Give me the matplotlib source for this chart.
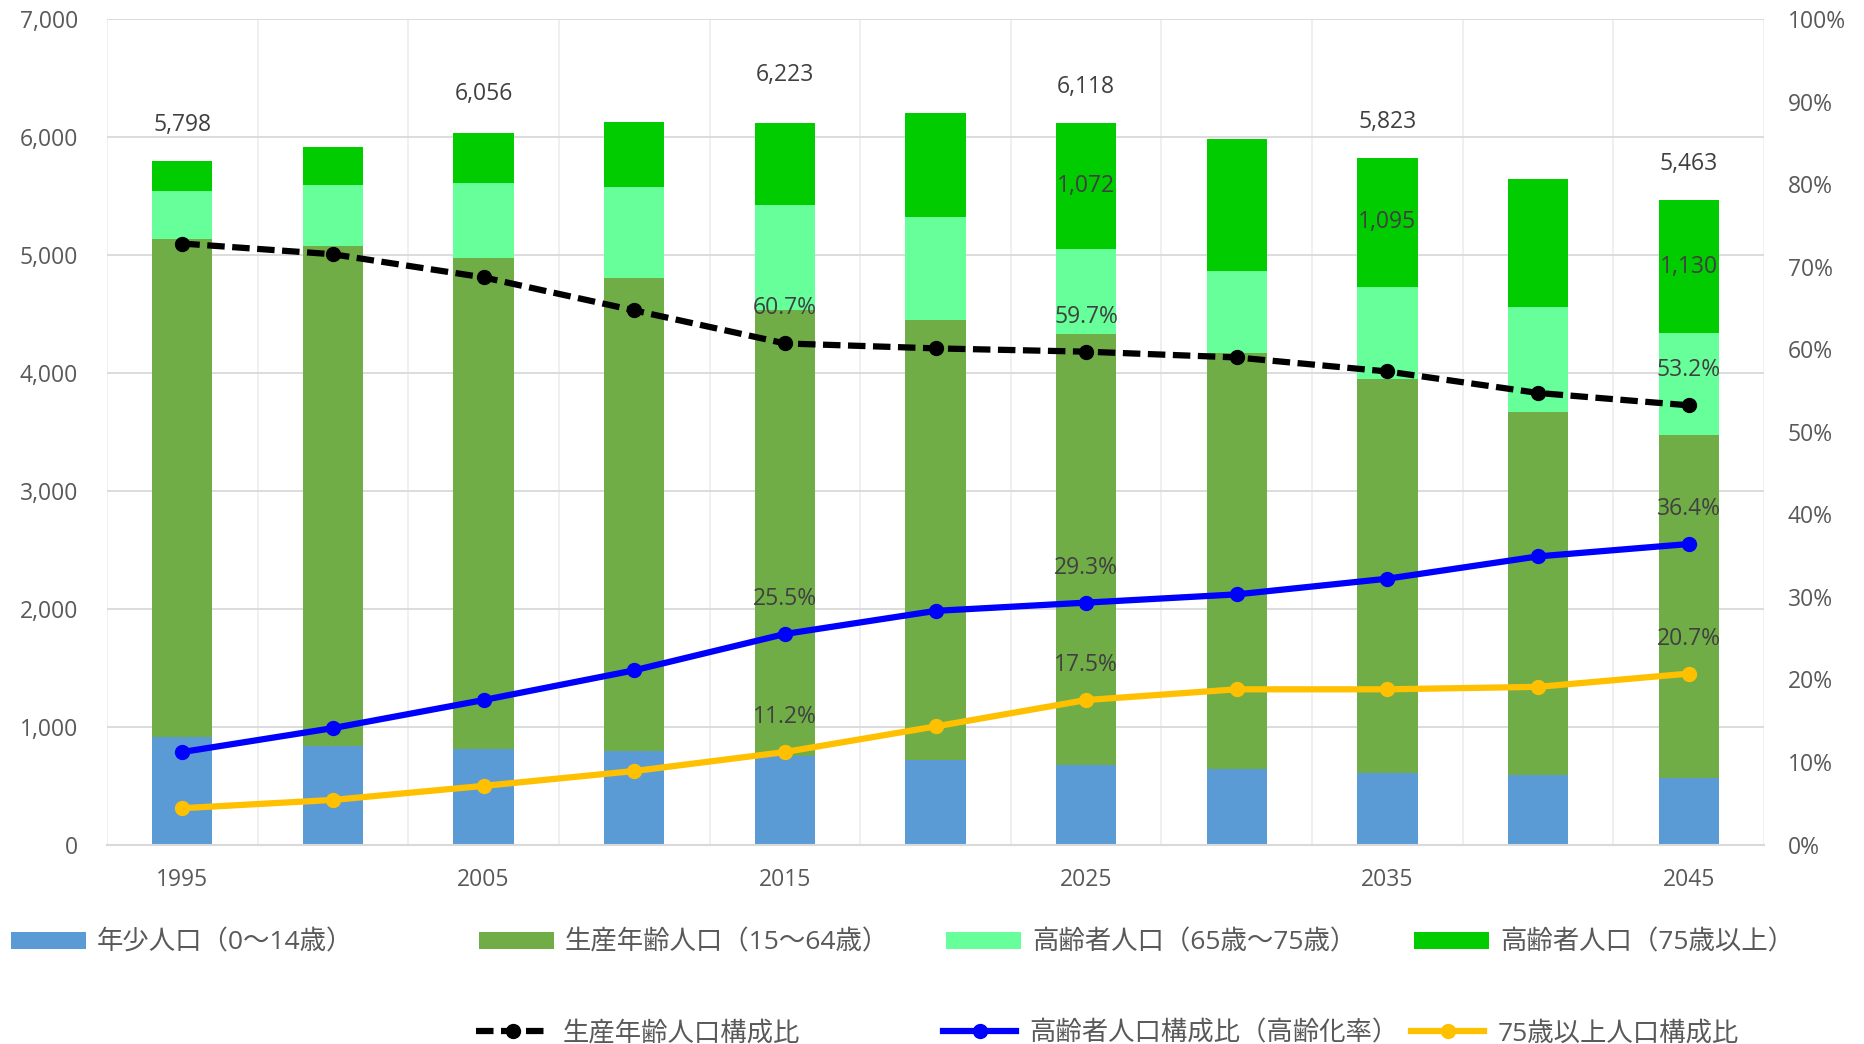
import matplotlib
matplotlib.use("Agg")
from matplotlib import pyplot as plt
from matplotlib.patches import Patch
from matplotlib.lines import Line2D
import numpy as np

plt.rcParams['font.family'] = ['Open Sans', 'Noto Sans CJK JP', 'DejaVu Sans']

years = [1995, 2000, 2005, 2010, 2015, 2020, 2025, 2030, 2035, 2040, 2045]
# 人口（千人）
young = [909, 838, 812, 795, 753, 720, 672, 638, 604, 587, 567]
working = [4225, 4240, 4159, 4009, 3780, 3728, 3654, 3527, 3343, 3083, 2908]
old65 = [408, 517, 636, 769, 891, 873, 724, 698, 780, 890, 860]
old75 = [254, 320, 426, 556, 695, 885, 1072, 1122, 1095, 1086, 1130]
# 総人口ラベル（1995, 2005, ... 2045）
total_years = [1995, 2005, 2015, 2025, 2035, 2045]
total_vals = [5798, 6056, 6223, 6118, 5823, 5463]
# 構成比（%）
pct_working = [72.8, 71.5, 68.7, 64.7, 60.7, 60.1, 59.7, 59.0, 57.3, 54.7, 53.2]
pct_aging = [11.2, 14.1, 17.5, 21.1, 25.5, 28.3, 29.3, 30.3, 32.2, 34.9, 36.4]
pct_75 = [4.4, 5.4, 7.1, 8.9, 11.2, 14.3, 17.5, 18.8, 18.8, 19.1, 20.7]
label_years = [2015, 2025, 2045]
old75_label_years = [2025, 2035, 2045]

bar_names = ["年少人口（0〜14歳）", "生産年齢人口（15〜64歳）", "高齢者人口（65歳〜75歳）", "高齢者人口（75歳以上）"]
bar_colors = ["#5B9BD5", "#70AD47", "#66FF99", "#00CC00"]
line_names = ["生産年齢人口構成比", "高齢者人口構成比（高齢化率）", "75歳以上人口構成比"]

GRAY = "#595959"
LABEL = "#404040"
FS = 16.5
MS = 10

fig = plt.figure(figsize=(18.65, 10.44), dpi=100)
ax = fig.add_axes([107/1865, 199.5/1044, 1657/1865, 825.5/1044])
x = np.arange(len(years))

bottom = np.zeros(len(years))
for vals, c in zip([young, working, old65, old75], bar_colors):
    ax.bar(x, vals, 0.4, bottom=bottom, color=c, zorder=2)
    bottom = bottom + np.array(vals)

ax.set_xlim(-0.5, len(years) - 0.5)
ax.set_ylim(0, 7000)
ax.set_yticks(range(0, 7001, 1000))
ax.set_yticklabels([f"{v:,}" for v in range(0, 7001, 1000)])
ax.set_xticks(x)
ax.set_xticklabels([str(y) if i % 2 == 0 else "" for i, y in enumerate(years)])
ax.set_xticks(np.arange(-0.5, len(years), 1), minor=True)
ax.tick_params(axis='x', which='both', length=0, pad=17, labelsize=FS, labelcolor=GRAY)
ax.tick_params(axis='y', length=0, pad=21, labelsize=FS, labelcolor=GRAY)
ax.grid(axis='y', color="#D9D9D9", lw=1.3, zorder=0)
ax.grid(axis='x', which='minor', color="#EBEBEB", lw=1.1, zorder=0)
ax.set_axisbelow(True)
for s in ['top', 'right', 'left']:
    ax.spines[s].set_visible(False)
ax.spines['bottom'].set_color("#D9D9D9")
ax.spines['bottom'].set_linewidth(1.5)

# 総人口ラベル
for yr, v in zip(total_years, total_vals):
    ax.annotate(f"{v:,}", (years.index(yr), v), xytext=(0, 36), textcoords='offset pixels',
                ha='center', va='center', fontsize=FS, color=LABEL)
# 75歳以上ラベル
for yr in old75_label_years:
    i = years.index(yr)
    ax.text(i, bottom[i] - old75[i] / 2, f"{old75[i]:,}", ha='center', va='center',
            fontsize=FS, color=LABEL, zorder=5)

ax2 = ax.twinx()
ax2.set_ylim(0, 100)
ax2.set_yticks(range(0, 101, 10))
ax2.set_yticklabels([f"{v}%" for v in range(0, 101, 10)])
ax2.tick_params(axis='y', length=0, pad=17, labelsize=FS, labelcolor=GRAY)
for s in ax2.spines.values():
    s.set_visible(False)

ax2.plot(x, pct_working, color="black", lw=4.5, ls=(0, (2.8, 1.2)), marker='o', ms=MS, zorder=3)
ax2.plot(x, pct_aging, color="#0000FF", lw=4.5, marker='o', ms=MS, zorder=3)
ax2.plot(x, pct_75, color="#FFC000", lw=4.5, marker='o', ms=MS, zorder=3)

for series in [pct_working, pct_aging, pct_75]:
    for yr in label_years:
        i = years.index(yr)
        ax2.annotate(f"{series[i]:.1f}%", (i, series[i]), xytext=(0, 35), textcoords='offset pixels',
                     ha='center', va='center', fontsize=FS, color=LABEL)

# 凡例
col_x = [11/1865, 479/1865, 946/1865, 1414/1865]
row1_y = 1 - 943/1044
row2_y = 1 - 1034/1044
LFS = 19
for cx, name, c in zip(col_x, bar_names, bar_colors):
    fig.legend([Patch(facecolor=c)], [name], loc='center left', bbox_to_anchor=(cx, row1_y),
               frameon=False, fontsize=LFS, labelcolor=GRAY, borderpad=0, borderaxespad=0,
               handlelength=2.84, handleheight=0.6, handletextpad=0.42)
line_handles = [
    Line2D([], [], color="black", lw=4.5, ls=(0, (2.8, 1.2)), marker='o', ms=MS),
    Line2D([], [], color="#0000FF", lw=4.5, marker='o', ms=MS),
    Line2D([], [], color="#FFC000", lw=4.5, marker='o', ms=MS),
]
for cx, name, h in zip(col_x[1:], line_names, line_handles):
    fig.legend([h], [name], loc='center left', bbox_to_anchor=(cx - 3/1865, row2_y),
               frameon=False, fontsize=LFS, labelcolor=GRAY, borderpad=0, borderaxespad=0,
               handlelength=2.77, handletextpad=0.5)

fig.savefig("out.png", dpi=100)
